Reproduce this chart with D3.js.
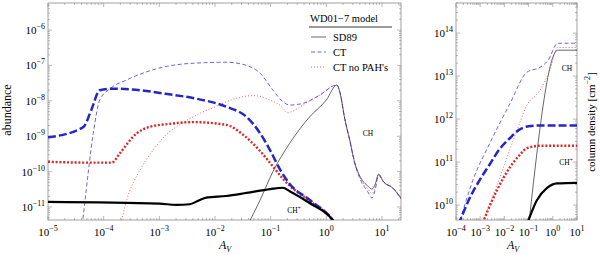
<!DOCTYPE html>
<html>
<head>
<meta charset="utf-8">
<script src="https://cdn.jsdelivr.net/npm/d3@7"></script>
<style>
  body { margin: 0; background: #fff; }
</style>
</head>
<body>
<svg id="chart" width="600" height="257"></svg>
<script>
// ---- left panel: abundance vs A_V, points are [A_V, abundance]
var abSd89Ch = [[0.025, 1e-12], [0.043, 4.3e-12], [0.065, 1.6e-11], [0.11, 1.0e-10], [0.22, 6.3e-10],
  [0.5, 3.5e-9], [1.0, 1.05e-8], [1.55, 2.8e-8], [1.78, 1.6e-8], [2.14, 3.2e-9], [2.63, 7.9e-10],
  [3.3, 1.6e-10], [3.8, 8.9e-11], [4.47, 5.6e-11], [5.5, 4.0e-11], [6.6, 3.2e-11], [7.6, 4.5e-11],
  [8.7, 8.5e-11], [10.7, 5.1e-11], [15.5, 3.5e-11], [22.9, 1.6e-11]];
var abCtCh = [[4.0e-5, 2e-12], [4.6e-5, 1.4e-11], [6.5e-5, 1.2e-9], [8.5e-5, 1.05e-8], [1.3e-4, 2.2e-8],
  [2.6e-4, 3.9e-8], [5.9e-4, 6.6e-8], [1.4e-3, 9.5e-8], [4.0e-3, 1.15e-7], [1.6e-2, 1.23e-7],
  [3.7e-2, 1.0e-7], [6.5e-2, 6.0e-8], [0.11, 2.0e-8], [0.166, 9.5e-9], [0.22, 7.6e-9], [0.38, 8.5e-9],
  [0.76, 1.45e-8], [1.55, 2.8e-8], [1.78, 1.6e-8], [2.14, 3.2e-9], [2.63, 7.9e-10], [3.3, 1.6e-10],
  [3.8, 8e-11], [4.47, 4.5e-11], [5.5, 2.8e-11], [6.6, 1.8e-11], [7.6, 3.2e-11], [8.7, 7.9e-11],
  [10.7, 5.1e-11], [15.5, 3.5e-11], [22.9, 1.6e-11]];
var abCtNoPahCh = [[1.9e-4, 2e-12], [2.6e-4, 1.6e-11], [4.5e-4, 1.1e-10], [7.8e-4, 4.1e-10], [1.4e-3, 1.2e-9],
  [2.1e-3, 1.9e-9], [4.0e-3, 3.5e-9], [9.1e-3, 6.3e-9], [2.5e-2, 1.2e-8], [4.8e-2, 1.4e-8],
  [9.8e-2, 1.05e-8], [0.166, 6.3e-9], [0.195, 4.6e-9], [0.28, 5.6e-9], [0.38, 7.6e-9], [0.76, 1.45e-8],
  [1.55, 2.8e-8], [1.78, 1.6e-8], [2.14, 3.2e-9], [2.63, 7.9e-10], [3.3, 1.6e-10], [3.8, 8.5e-11],
  [4.47, 5e-11], [5.5, 3.4e-11], [6.6, 2.4e-11], [7.6, 3.8e-11], [8.7, 8.2e-11], [10.7, 5.1e-11],
  [15.5, 3.5e-11], [22.9, 1.6e-11]];
var abSd89Chp = [[1e-5, 1.4e-11], [1e-3, 1.25e-11], [2.0e-3, 1.15e-11], [3.5e-3, 1.2e-11], [5e-3, 1.5e-11],
  [7e-3, 1.85e-11], [1.6e-2, 2.05e-11], [3.7e-2, 2.5e-11], [9.8e-2, 3.2e-11], [0.166, 3.5e-11],
  [0.22, 2.8e-11], [0.5, 1.3e-11], [1.26, 4.6e-12], [2, 1.5e-12]];
var abCtChp = [[1e-5, 9.3e-10], [4.3e-5, 1.8e-9], [6.0e-5, 5.5e-9], [8.5e-5, 2.0e-8], [1.5e-4, 2.2e-8],
  [4.5e-4, 2.0e-8], [1.4e-3, 1.55e-8], [4.0e-3, 1.2e-8], [1.6e-2, 6.8e-9], [3.7e-2, 3.5e-9],
  [6.5e-2, 1.2e-9], [9.8e-2, 4.0e-10], [0.15, 1.1e-10], [0.22, 4.5e-11], [0.5, 1.6e-11],
  [1.26, 4.6e-12], [2, 1.5e-12]];
var abCtNoPahChp = [[1e-5, 1.9e-10], [4.3e-5, 1.8e-10], [1.4e-4, 1.8e-10], [1.95e-4, 3.3e-10], [3.9e-4, 1.2e-9],
  [6.8e-4, 1.85e-9], [1.4e-3, 2.2e-9], [4.0e-3, 2.5e-9], [1.6e-2, 2.1e-9], [3.2e-2, 1.1e-9],
  [6.3e-2, 4.0e-10], [0.11, 1.4e-10], [0.166, 6.3e-11], [0.22, 4.0e-11], [0.5, 1.5e-11],
  [1.26, 4.5e-12], [2, 1.5e-12]];

// ---- right panel: column density vs A_V
var colSd89Ch = [[0.1, 3.2e9], [1.6, 4.0e13], [10, 4.0e13]];
var colCtCh = [[1.26e-4, 3.2e9], [5.0e-4, 3.8e10], [2.5e-3, 2.75e11], [1.7e-2, 2.3e12], [8.5e-2, 1.23e13],
  [0.3, 1.6e13], [0.63, 2.3e13], [1.6, 5.8e13], [10, 5.8e13]];
var colCtNoPahCh = [[1.1e-3, 3.2e9], [6.6e-3, 4.5e10], [3.3e-2, 5.5e11], [8.5e-2, 2.1e12], [0.3, 4.7e12],
  [0.76, 1.4e13], [1.6, 4.6e13], [10, 4.6e13]];
var colSd89Chp = [[8e-2, 3.2e9], [0.22, 1.3e10], [0.58, 2.5e10], [1.5, 3.2e10], [10, 3.3e10]];
var colCtChp = [[1.26e-4, 3.5e9], [4.0e-4, 1.6e10], [1e-3, 4.0e10], [2.5e-3, 8.9e10], [6.3e-3, 2.0e11],
  [1.6e-2, 3.5e11], [4.0e-2, 5.6e11], [0.1, 6.8e11], [0.32, 7.1e11], [10, 7.1e11]];
var colCtNoPahChp = [[1.1e-3, 3.2e9], [4.9e-3, 2.2e10], [1.7e-2, 7.6e10], [4.0e-2, 1.4e11], [8.5e-2, 2.1e11],
  [0.32, 2.4e11], [10, 2.4e11]];

var legendTitle = "WD01\u22127 model";
var legendNames = ["SD89", "CT", "CT no PAH's"];

var BLUE = "#2626c8", RED = "#dc2626";
var styles = {
  sd89Thin: { stroke: "#000", width: 0.6, dash: null },
  ctThin: { stroke: BLUE, width: 0.7, dash: "4,2.5" },
  noPahThin: { stroke: RED, width: 0.7, dash: "1,2" },
  sd89Thick: { stroke: "#000", width: 2.2, dash: null },
  ctThick: { stroke: BLUE, width: 2.5, dash: "8,3" },
  noPahThick: { stroke: RED, width: 2.4, dash: "2,1.8" }
};

var svg = d3.select("#chart");

function logTicks(scale) {
  var dom = scale.domain(), out = [];
  for (var k = Math.floor(Math.log10(dom[0])); k <= Math.ceil(Math.log10(dom[1])); k++) {
    for (var m = 1; m < 10; m++) {
      var v = m * Math.pow(10, k);
      if (v >= dom[0] * 0.999 && v <= dom[1] * 1.001) out.push({ v: v, major: m === 1, k: k });
    }
  }
  return out;
}

function powLabel(sel, k) {
  sel.append("tspan").text("10");
  sel.append("tspan").attr("font-size", "8px").attr("dy", "-5")
    .text(k < 0 ? "\u2212" + (-k) : "" + k);
}

function drawPanel(p) {
  var g = svg.append("g");
  var x = p.x, y = p.y;
  var x0 = x.range()[0], x1 = x.range()[1], y0 = y.range()[1], y1 = y.range()[0];

  g.append("clipPath").attr("id", p.id).append("rect")
    .attr("x", x0).attr("y", y0).attr("width", x1 - x0).attr("height", y1 - y0);

  // ticks on all four sides, pointing in
  var tg = g.append("g").attr("stroke", "#8a8a8a").attr("stroke-width", 0.6);
  logTicks(x).forEach(function (t) {
    var len = t.major ? 4 : 2, px = x(t.v);
    tg.append("line").attr("x1", px).attr("x2", px).attr("y1", y1).attr("y2", y1 - len);
    tg.append("line").attr("x1", px).attr("x2", px).attr("y1", y0).attr("y2", y0 + len);
    if (t.major) {
      var tx = g.append("text").attr("x", px).attr("y", y1 + 16)
        .attr("text-anchor", "middle").attr("font-size", "11px");
      powLabel(tx, t.k);
    }
  });
  logTicks(y).forEach(function (t) {
    var len = t.major ? 4 : 2, py = y(t.v);
    tg.append("line").attr("x1", x0).attr("x2", x0 + len).attr("y1", py).attr("y2", py);
    tg.append("line").attr("x1", x1).attr("x2", x1 - len).attr("y1", py).attr("y2", py);
    if (t.major) {
      var ty = g.append("text").attr("x", x0 - 3).attr("y", py + 4)
        .attr("text-anchor", "end").attr("font-size", "11px");
      powLabel(ty, t.k);
    }
  });

  g.append("rect").attr("x", x0).attr("y", y0).attr("width", x1 - x0).attr("height", y1 - y0)
    .attr("fill", "none").attr("stroke", "#8a8a8a").attr("stroke-width", 0.8);

  var line = d3.line()
    .x(function (d) { return x(d[0]); })
    .y(function (d) { return y(d[1]); })
    .curve(d3.curveMonotoneX);

  var lg = g.append("g").attr("clip-path", "url(#" + p.id + ")");
  p.series.forEach(function (s) {
    lg.append("path").datum(s.data)
      .attr("d", line)
      .attr("fill", "none")
      .attr("stroke", s.style.stroke)
      .attr("stroke-width", s.style.width)
      .attr("stroke-dasharray", s.style.dash)
      .attr("stroke-linejoin", "round");
  });

  // A_V axis label
  var al = g.append("text").attr("x", p.avX).attr("y", 249).attr("text-anchor", "middle")
    .attr("font-size", "12px").attr("font-style", "italic");
  al.append("tspan").text("A");
  al.append("tspan").attr("font-size", "8px").attr("dy", "3").text("V");

  p.labels.forEach(function (l) {
    var t = g.append("text").attr("x", l.x).attr("y", l.y).attr("font-size", "7.5px")
      .attr("text-anchor", "middle");
    t.append("tspan").text("CH");
    if (l.plus) t.append("tspan").attr("font-size", "5.5px").attr("dy", "-3").text("+");
  });
  return g;
}

// left panel
var xAb = d3.scaleLog().domain([1e-5, 22]).range([48, 401]);
var yAb = d3.scaleLog().domain([4.3e-12, 5.8e-6]).range([220, 3]);

drawPanel({
  id: "clipAb", x: xAb, y: yAb, avX: 225,
  series: [
    { data: abSd89Ch, style: styles.sd89Thin },
    { data: abCtNoPahCh, style: styles.noPahThin },
    { data: abCtCh, style: styles.ctThin },
    { data: abCtNoPahChp, style: styles.noPahThick },
    { data: abCtChp, style: styles.ctThick },
    { data: abSd89Chp, style: styles.sd89Thick }
  ],
  labels: [{ x: 368, y: 136, plus: false }, { x: 294, y: 213, plus: true }]
});

// right panel
var xCol = d3.scaleLog().domain([1e-4, 10]).range([456, 577]);
var yCol = d3.scaleLog().domain([4.5e9, 5e14]).range([220, 3]);

drawPanel({
  id: "clipCol", x: xCol, y: yCol, avX: 513,
  series: [
    { data: colSd89Ch, style: styles.sd89Thin },
    { data: colCtNoPahCh, style: styles.noPahThin },
    { data: colCtCh, style: styles.ctThin },
    { data: colCtNoPahChp, style: styles.noPahThick },
    { data: colCtChp, style: styles.ctThick },
    { data: colSd89Chp, style: styles.sd89Thick }
  ],
  labels: [{ x: 567, y: 71, plus: false }, { x: 566, y: 165, plus: true }]
});

// y axis titles
svg.append("text").attr("transform", "translate(11,110) rotate(-90)")
  .attr("text-anchor", "middle").attr("font-size", "12px").text("abundance");
var ct = svg.append("text").attr("transform", "translate(595,122) rotate(-90)")
  .attr("text-anchor", "middle").attr("font-size", "11px");
ct.append("tspan").text("column density [cm");
ct.append("tspan").attr("font-size", "8px").attr("dy", "-5").text("\u22122");
ct.append("tspan").attr("dy", "5").text("]");

// legend
var leg = svg.append("g");
leg.append("text").attr("x", 310).attr("y", 22).attr("font-size", "10.5px").text(legendTitle);
leg.append("line").attr("x1", 309).attr("x2", 392).attr("y1", 27).attr("y2", 27)
  .attr("stroke", "#000").attr("stroke-width", 0.8);
var legStyles = [styles.sd89Thin, styles.ctThin, styles.noPahThin];
legendNames.forEach(function (name, i) {
  var ly = 37 + i * 15;
  leg.append("line").attr("x1", 311).attr("x2", 326).attr("y1", ly).attr("y2", ly)
    .attr("stroke", legStyles[i].stroke).attr("stroke-width", legStyles[i].width)
    .attr("stroke-dasharray", legStyles[i].dash);
  leg.append("text").attr("x", 333).attr("y", ly + 3.5).attr("font-size", "10.5px").text(name);
});

// serif face for every label
svg.selectAll("text").style("font-family", "'Liberation Serif'").style("fill", "#000");
</script>
</body>
</html>
